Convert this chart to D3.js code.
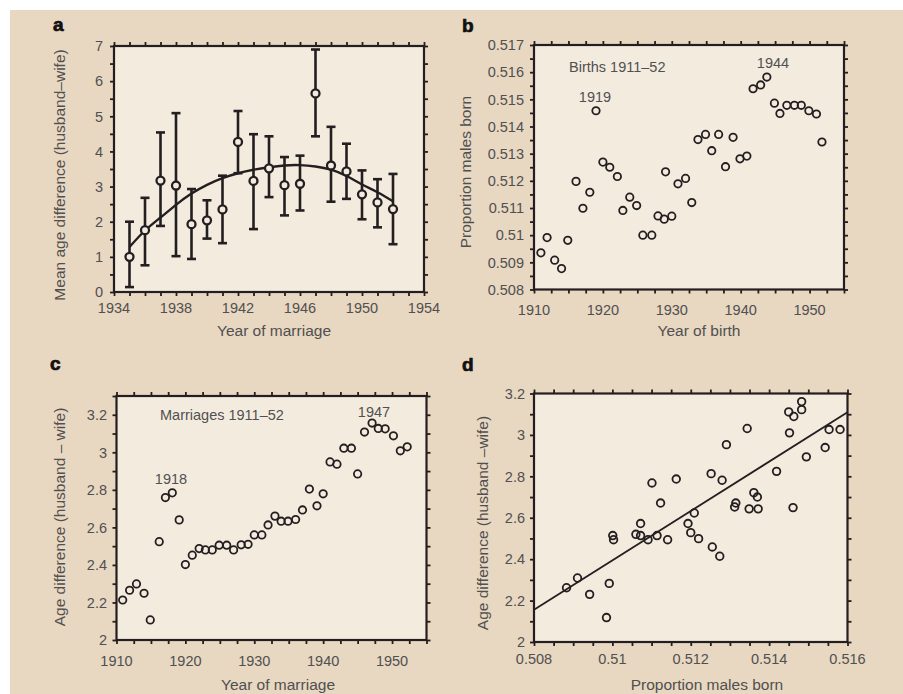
<!DOCTYPE html>
<html><head><meta charset="utf-8">
<script src="https://cdn.jsdelivr.net/npm/d3@7"></script>
<style>body{margin:0;background:#fff} svg{display:block} text{font-family:"Liberation Sans",Arial,Helvetica,sans-serif}</style>
</head><body><svg id="chart" width="903" height="694"></svg>
<script>
// ---------- Panel a data ----------
const aYears = [1935,1936,1937,1938,1939,1940,1941,1942,1943,1944,1945,1946,1947,1948,1949,1950,1951,1952];
const aMean  = [1.00,1.76,3.17,3.03,1.93,2.04,2.35,4.27,3.16,3.52,3.04,3.08,5.65,3.60,3.43,2.78,2.55,2.36];
const aLow   = [0.14,0.76,1.88,1.02,0.94,1.52,1.39,3.38,1.79,2.70,2.18,2.32,4.43,2.57,2.65,2.07,1.84,1.36];
const aHigh  = [2.00,2.68,4.54,5.09,2.93,2.61,3.31,5.15,4.49,4.43,3.84,3.88,6.90,4.70,4.22,3.46,3.21,3.36];
const aFit   = [1.28,1.75,2.12,2.48,2.80,3.05,3.24,3.38,3.48,3.55,3.60,3.61,3.57,3.48,3.30,3.06,2.84,2.58];
const aXLabels = [1934,1938,1942,1946,1950,1954];
const aYLabels = [0,1,2,3,4,5,6,7];

// ---------- Panel b data ----------
const bYears = [1911.0,1911.9,1913.0,1914.0,1914.9,1916.1,1917.1,1918.1,1919.0,1920.0,1921.0,1922.1,1922.9,1923.9,1924.9,1925.8,1927.1,1928.0,1928.9,1929.1,1930.0,1930.9,1932.0,1932.9,1933.8,1934.9,1935.8,1936.8,1937.8,1938.9,1939.9,1940.9,1941.8,1942.9,1943.8,1944.9,1945.7,1946.7,1947.8,1948.8,1949.9,1951.0,1951.8];
const bVals  = [0.50935,0.50991,0.50908,0.50877,0.50981,0.51198,0.51099,0.51158,0.51458,0.51269,0.51250,0.51216,0.51091,0.51140,0.51109,0.51000,0.51000,0.51071,0.51059,0.51233,0.51070,0.51189,0.51209,0.51120,0.51352,0.51371,0.51311,0.51371,0.51252,0.51360,0.51281,0.51291,0.51539,0.51553,0.51582,0.51486,0.51448,0.51478,0.51478,0.51478,0.51458,0.51446,0.51343];
const bXLabels = [1910,1920,1930,1940,1950];
const bYLabels = ["0.508","0.509","0.51","0.511","0.512","0.513","0.514","0.515","0.516","0.517"];

// ---------- Panel c data ----------
const cYears = [1910.9,1911.9,1912.9,1914.0,1914.9,1916.2,1917.1,1918.1,1919.1,1920.0,1921.0,1922.0,1922.9,1923.9,1924.9,1926.0,1927.0,1928.1,1929.1,1930.0,1931.1,1932.0,1933.0,1933.9,1934.9,1936.0,1937.0,1938.0,1939.1,1940.0,1941.0,1942.0,1943.0,1944.1,1945.0,1946.0,1947.1,1948.0,1949.0,1950.2,1951.2,1952.2];
const cVals  = [2.213,2.265,2.299,2.249,2.107,2.524,2.759,2.784,2.640,2.402,2.452,2.487,2.480,2.480,2.505,2.505,2.480,2.507,2.510,2.560,2.560,2.613,2.660,2.633,2.633,2.642,2.693,2.804,2.715,2.779,2.949,2.937,3.022,3.022,2.885,3.108,3.156,3.127,3.125,3.088,3.008,3.029];
const cXLabels = [1910,1920,1930,1940,1950];
const cYLabels = ["2","2.2","2.4","2.6","2.8","3","3.2"];

// ---------- Panel d data ----------
const dProp = [0.50883,0.50911,0.50942,0.50985,0.50992,0.51001,0.51003,0.51060,0.51072,0.51072,0.51091,0.51101,0.51114,0.51123,0.51141,0.51163,0.51193,0.51200,0.51209,0.51220,0.51252,0.51255,0.51274,0.51280,0.51291,0.51312,0.51315,0.51344,0.51349,0.51361,0.51370,0.51372,0.51419,0.51450,0.51452,0.51461,0.51463,0.51483,0.51483,0.51495,0.51543,0.51553,0.51581];
const dAge  = [2.262,2.309,2.230,2.118,2.283,2.514,2.494,2.520,2.572,2.514,2.494,2.768,2.514,2.671,2.494,2.787,2.572,2.528,2.623,2.499,2.813,2.459,2.414,2.781,2.953,2.652,2.671,3.031,2.643,2.721,2.700,2.643,2.824,3.111,3.010,2.649,3.089,3.161,3.122,2.894,2.939,3.026,3.026];
const dLineX = [0.508, 0.516];
const dLineY = [2.156, 3.109];
const dXLabels = ["0.508","0.51","0.512","0.514","0.516"];
const dYLabels = ["2","2.2","2.4","2.6","2.8","3","3.2"];

// ---------- styling ----------
const TAN = "#e8d7c1", INNER = "#f4ebdf", INK = "#231f20", TXT = "#505050";
const FS = 14.5;
const svg = d3.select("#chart");
svg.append("rect").attr("x",10).attr("y",10).attr("width",893).attr("height",684).attr("fill",TAN);

function frame(x, y, xMinor, yMinor) {
  const [x0,x1] = x.range(), [y1,y0] = y.range();
  const g = svg.append("g");
  g.append("rect").attr("x",x0).attr("y",y0).attr("width",x1-x0).attr("height",y1-y0).attr("fill",INNER);
  const axes = [
    [d3.axisBottom(x).tickValues(xMinor), `translate(0,${y1})`],
    [d3.axisTop(x).tickValues(xMinor), `translate(0,${y0})`],
    [d3.axisLeft(y).tickValues(yMinor), `translate(${x0},0)`],
    [d3.axisRight(y).tickValues(yMinor), `translate(${x1},0)`]
  ];
  axes.forEach(([ax,tr]) => {
    const a = g.append("g").attr("transform",tr).call(ax.tickSize(4).tickSizeOuter(0).tickFormat(""));
    a.select(".domain").remove();
    a.selectAll("line").attr("stroke",INK).attr("stroke-width",1.8);
  });
  g.append("rect").attr("x",x0).attr("y",y0).attr("width",x1-x0).attr("height",y1-y0)
    .attr("fill","none").attr("stroke",INK).attr("stroke-width",2.2);
  return g;
}
function xLabels(x, vals, baseline) {
  svg.append("g").selectAll("text").data(vals).join("text")
    .attr("x", d => x(+d)).attr("y", baseline).attr("text-anchor","middle")
    .attr("font-size",FS).attr("fill",TXT).text(d => d);
}
function yLabels(y, vals, right) {
  svg.append("g").selectAll("text").data(vals).join("text")
    .attr("x", right).attr("y", d => y(+d)).attr("dy","0.36em").attr("text-anchor","end")
    .attr("font-size",FS).attr("fill",TXT).text(d => d);
}
function title(txt, x, y, rot) {
  const t = svg.append("text").attr("font-size",15.5).attr("fill",TXT).attr("text-anchor","middle").text(txt);
  if (rot) t.attr("transform",`translate(${x},${y}) rotate(-90)`); else t.attr("x",x).attr("y",y);
}
function note(txt, x, y, anchor) {
  svg.append("text").attr("x",x).attr("y",y).attr("font-size",FS).attr("fill",TXT)
    .attr("text-anchor",anchor||"middle").text(txt);
}
function letter(txt, x, y) {
  svg.append("text").attr("x",x).attr("y",y).attr("font-size",19).attr("font-weight","bold")
    .attr("fill","#111").attr("stroke","#111").attr("stroke-width",0.7).text(txt);
}

// ---------- Panel a ----------
{
  const x = d3.scaleLinear().domain([1934,1954]).range([114,424]);
  const y = d3.scaleLinear().domain([0,7]).range([292,46]);
  frame(x, y, d3.range(1934,1955,1), d3.range(0,15).map(i=>i*0.5));
  const g = svg.append("g");
  g.append("path").datum(aYears.map((d,i)=>[d,aFit[i]]))
    .attr("d", d3.line().x(d=>x(d[0])).y(d=>y(d[1])).curve(d3.curveNatural))
    .attr("fill","none").attr("stroke",INK).attr("stroke-width",2.4);
  const eb = g.selectAll("g.eb").data(aYears).join("g");
  eb.append("line").attr("x1",d=>x(d)).attr("x2",d=>x(d)).attr("y1",(d,i)=>y(aLow[i])).attr("y2",(d,i)=>y(aHigh[i]))
    .attr("stroke",INK).attr("stroke-width",2.6);
  eb.append("line").attr("x1",d=>x(d)-4.5).attr("x2",d=>x(d)+4.5).attr("y1",(d,i)=>y(aLow[i])).attr("y2",(d,i)=>y(aLow[i]))
    .attr("stroke",INK).attr("stroke-width",2.6);
  eb.append("line").attr("x1",d=>x(d)-4.5).attr("x2",d=>x(d)+4.5).attr("y1",(d,i)=>y(aHigh[i])).attr("y2",(d,i)=>y(aHigh[i]))
    .attr("stroke",INK).attr("stroke-width",2.6);
  eb.append("circle").attr("cx",d=>x(d)).attr("cy",(d,i)=>y(aMean[i])).attr("r",4)
    .attr("fill",INNER).attr("stroke",INK).attr("stroke-width",2.3);
  xLabels(x, aXLabels, 313);
  yLabels(y, aYLabels, 103);
  title("Year of marriage", 274, 336);
  title("Mean age difference (husband\u2013wife)", 65, 175, true);
  letter("a", 53, 31);
}

// ---------- Panel b ----------
{
  const x = d3.scaleLinear().domain([1910,1955]).range([534,844]);
  const y = d3.scaleLinear().domain([0.508,0.517]).range([289.5,45]);
  frame(x, y, d3.range(0,19).map(i=>1910+i*2.5), d3.range(0,19).map(i=>0.508+i*0.0005));
  svg.append("g").selectAll("circle").data(bYears).join("circle")
    .attr("cx",d=>x(d)).attr("cy",(d,i)=>y(bVals[i])).attr("r",3.7)
    .attr("fill","none").attr("stroke",INK).attr("stroke-width",1.8);
  xLabels(x, bXLabels, 315);
  yLabels(y, bYLabels, 524);
  title("Year of birth", 699, 336);
  title("Proportion males born", 471, 172, true);
  note("Births 1911\u201352", 569, 72, "start");
  note("1919", 595, 102);
  note("1944", 773, 68);
  letter("b", 462, 32);
}

// ---------- Panel c ----------
{
  const x = d3.scaleLinear().domain([1910,1955]).range([116.5,426.5]);
  const y = d3.scaleLinear().domain([2,3.3]).range([640,396]);
  frame(x, y, d3.range(0,19).map(i=>1910+i*2.5), d3.range(0,14).map(i=>2+i*0.1));
  svg.append("g").selectAll("circle").data(cYears).join("circle")
    .attr("cx",d=>x(d)).attr("cy",(d,i)=>y(cVals[i])).attr("r",3.7)
    .attr("fill","none").attr("stroke",INK).attr("stroke-width",1.8);
  xLabels(x, cXLabels, 666);
  yLabels(y, cYLabels, 107);
  title("Year of marriage", 278, 690);
  title("Age difference (husband \u2013 wife)", 65, 517, true);
  note("Marriages 1911\u201352", 160, 420, "start");
  note("1918", 171, 484);
  note("1947", 374, 417);
  letter("c", 50, 370);
}

// ---------- Panel d ----------
{
  const x = d3.scaleLinear().domain([0.508,0.516]).range([534,847.5]);
  const y = d3.scaleLinear().domain([2,3.2]).range([642,393.5]);
  frame(x, y, d3.range(0,17).map(i=>0.508+i*0.0005), d3.range(0,13).map(i=>2+i*0.1));
  svg.append("line").attr("x1",x(dLineX[0])).attr("x2",x(dLineX[1])).attr("y1",y(dLineY[0])).attr("y2",y(dLineY[1]))
    .attr("stroke",INK).attr("stroke-width",1.8);
  svg.append("g").selectAll("circle").data(dProp).join("circle")
    .attr("cx",d=>x(d)).attr("cy",(d,i)=>y(dAge[i])).attr("r",3.8)
    .attr("fill","none").attr("stroke",INK).attr("stroke-width",1.8);
  xLabels(x, dXLabels, 664);
  yLabels(y, dYLabels, 525);
  title("Proportion males born", 707, 690);
  title("Age difference (husband \u2013wife)", 488, 523, true);
  letter("d", 462, 371);
}
</script></body></html>
